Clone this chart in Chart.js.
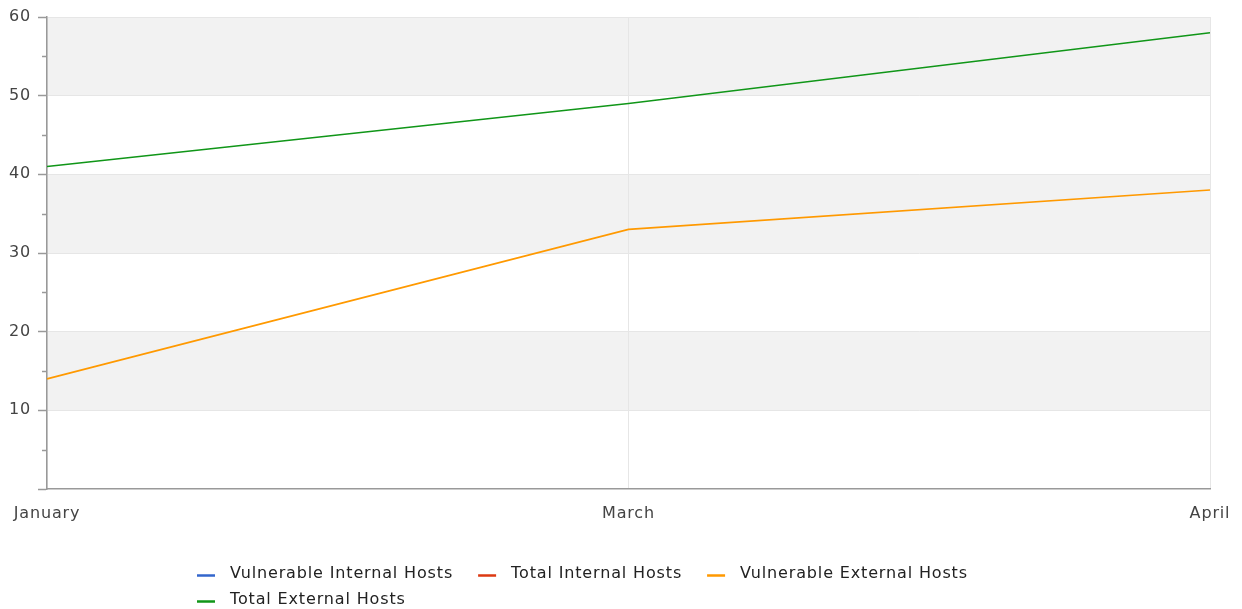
<!DOCTYPE html>
<html>
<head>
<meta charset="utf-8">
<script src="https://cdn.jsdelivr.net/npm/chart.js@4"></script>
<style>
  html, body { margin: 0; padding: 0; background: #fff; }
  #wrap { width: 1242px; height: 609px; position: relative; }
</style>
</head>
<body>
<div id="wrap"><canvas id="c" width="1242" height="609"></canvas></div>
<script>
const categories = ['January', 'March', 'April'];
const seriesNames = ['Vulnerable Internal Hosts', 'Total Internal Hosts', 'Vulnerable External Hosts', 'Total External Hosts'];
const vulnerableInternal = [null, null, null];
const totalInternal = [null, null, null];
const vulnerableExternal = [14, 33, 38];
const totalExternal = [41, 49, 58];
const seriesColors = ['#3366cc', '#dc3912', '#ff9900', '#109618'];
const yMin = 0, yMax = 60, yStep = 5, yLabelStep = 10;

const FONT = "'DejaVu Sans', sans-serif";
const SPACING = '0.85px';

const bandsPlugin = {
  id: 'bands',
  beforeInit(chart) { chart.ctx.letterSpacing = SPACING; },
  beforeDraw(chart) {
    const { ctx, chartArea, scales } = chart;
    ctx.letterSpacing = SPACING;
    const y = scales.y;
    ctx.save();
    ctx.fillStyle = '#f2f2f2';
    y.ticks.forEach(t => {
      const v = t.value;
      if (v % (2 * yLabelStep) === yLabelStep && v + yLabelStep <= yMax) {
        const top = y.getPixelForValue(v + yLabelStep);
        const bot = y.getPixelForValue(v);
        ctx.fillRect(chartArea.left, top, chartArea.right - chartArea.left, bot - top);
      }
    });
    ctx.restore();
  },
  afterDraw(chart) {
    const { ctx, scales } = chart;
    const y = scales.y;
    ctx.save();
    ctx.strokeStyle = '#999';
    ctx.lineWidth = 1.5;
    y.ticks.forEach(t => {
      if (t.value % yLabelStep !== 0) {
        const py = Math.round(y.getPixelForValue(t.value)) + 0.5;
        ctx.beginPath();
        ctx.moveTo(y.right - 5, py);
        ctx.lineTo(y.right, py);
        ctx.stroke();
      }
    });
    ctx.restore();
  }
};

const legendPlugin = {
  id: 'customLegend',
  afterDraw(chart) {
    const { ctx } = chart;
    ctx.save();
    ctx.letterSpacing = SPACING;
    ctx.font = '16px ' + FONT;
    ctx.textBaseline = 'middle';
    const startX = 197, maxRight = 1045;
    let x = startX, y = 574;
    chart.data.datasets.forEach(ds => {
      const w = ctx.measureText(ds.label).width;
      const itemW = 33 + w;
      if (x !== startX && x + itemW > maxRight) { x = startX; y += 26; }
      ctx.strokeStyle = ds.borderColor;
      ctx.lineWidth = 2.5;
      ctx.beginPath();
      ctx.moveTo(x, y + 1.5);
      ctx.lineTo(x + 18, y + 1.5);
      ctx.stroke();
      ctx.fillStyle = '#222';
      ctx.fillText(ds.label, x + 33, y);
      x += itemW + 25;
    });
    ctx.restore();
  }
};

const dataArrays = [vulnerableInternal, totalInternal, vulnerableExternal, totalExternal];

new Chart(document.getElementById('c'), {
  type: 'line',
  data: {
    labels: categories,
    datasets: seriesNames.map((name, i) => ({
      label: name,
      data: dataArrays[i],
      borderColor: seriesColors[i],
      backgroundColor: seriesColors[i],
      borderWidth: 1.6,
      pointRadius: 0,
      tension: 0,
      fill: false
    }))
  },
  options: {
    responsive: false,
    animation: false,
    layout: { padding: { left: 0, top: 17, right: 32, bottom: 0 } },
    plugins: {
      legend: { display: false },
      tooltip: { enabled: false }
    },
    scales: {
      x: {
        offset: false,
        afterFit(s) { s.height = 120; s.paddingLeft = 0; s.paddingRight = 0; },
        grid: { color: '#e6e6e6', lineWidth: 1, drawTicks: false },
        border: { color: '#999', width: 1.5 },
        ticks: { color: '#444', font: { family: FONT, size: 16 }, padding: 15, maxRotation: 0, autoSkip: false }
      },
      y: {
        min: yMin, max: yMax,
        afterFit(s) { s.width = 47; s.paddingTop = 0; s.paddingBottom = 0; },
        grid: {
          color: c => (c.tick && c.tick.value % yLabelStep === 0 && c.tick.value > 0) ? '#e6e6e6' : 'rgba(0,0,0,0)',
          tickColor: c => (c.tick && c.tick.value % yLabelStep === 0) ? '#999' : 'rgba(0,0,0,0)',
          tickLength: 9,
          tickWidth: 1.5,
          lineWidth: 1
        },
        border: { color: '#999', width: 1.5 },
        ticks: {
          stepSize: yStep,
          color: '#444',
          padding: 7,
          font: { family: FONT, size: 16 },
          callback: v => (v % yLabelStep === 0 && v !== 0) ? String(v) : ''
        }
      }
    }
  },
  plugins: [bandsPlugin, legendPlugin]
});
</script>
</body>
</html>
